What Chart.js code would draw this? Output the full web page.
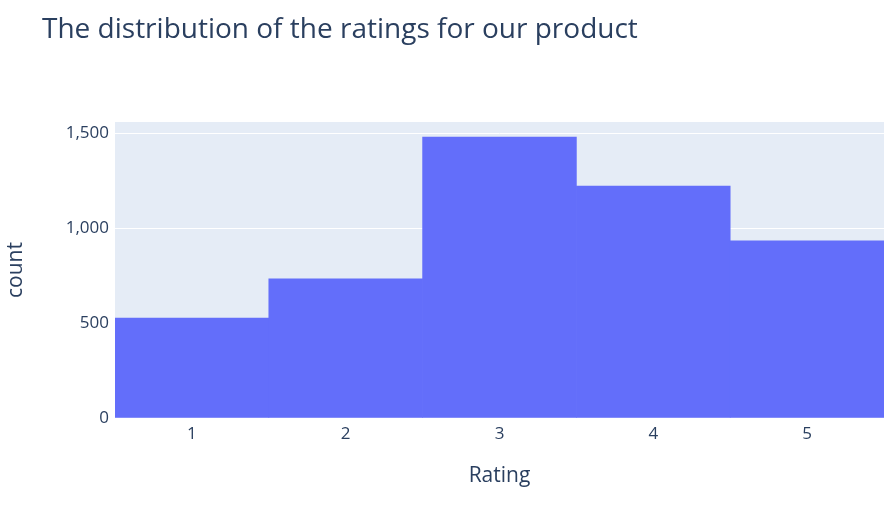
<!DOCTYPE html>
<html><head><meta charset="utf-8">
<script src="https://cdn.jsdelivr.net/npm/chart.js@4"></script>
<style>html,body{margin:0;padding:0;background:#fff}#w{width:895px;height:523px}</style>
</head><body><div id="w"><canvas id="c"></canvas></div>
<script>
const categories = ["1","2","3","4","5"];
const counts = [526, 732, 1479, 1221, 932];
const yTicks = [0, 500, 1000, 1500];
const font = "'Open Sans', 'Liberation Sans', sans-serif";
const bg = {id:'bg',beforeDraw(ch){const a=ch.chartArea,c=ch.ctx;c.save();c.fillStyle='#e5ecf6';c.fillRect(a.left,a.top,a.right-a.left,a.bottom-a.top);c.restore();},
 afterDraw(ch){const c=ch.ctx;c.save();c.fillStyle='#2a3f5f';c.font="28px "+font;c.textBaseline='middle';c.fillText('The distribution of the ratings for our product',42,30);c.restore();}};
new Chart(document.getElementById('c'),{
 type:'bar',
 data:{labels:categories,datasets:[{data:counts,backgroundColor:'#636efa',barPercentage:1,categoryPercentage:1}]},
 options:{responsive:true,maintainAspectRatio:false,animation:false,
  layout:{padding:{top:122,right:11,left:0,bottom:0}},
  plugins:{legend:{display:false},tooltip:{enabled:false}},
  scales:{
   x:{grid:{display:false,drawTicks:false},border:{display:false},
      ticks:{color:'#2a3f5f',font:{family:font,size:17},padding:6},
      title:{display:true,text:'Rating',color:'#2a3f5f',font:{family:font,size:21},padding:{top:0,bottom:34}},
      afterFit(s){s.height=105;}},
   y:{min:0,max:1558,afterBuildTicks(s){s.ticks=yTicks.map(v=>({value:v}));},
      grid:{color:'#ffffff',lineWidth:1,drawTicks:false},border:{display:false},
      ticks:{color:'#2a3f5f',font:{family:font,size:17},padding:6},
      title:{display:true,text:'count',color:'#2a3f5f',font:{family:font,size:21},padding:{top:3}},
      afterFit(s){s.width=115;}}
  }},
 plugins:[bg]});
</script></body></html>
